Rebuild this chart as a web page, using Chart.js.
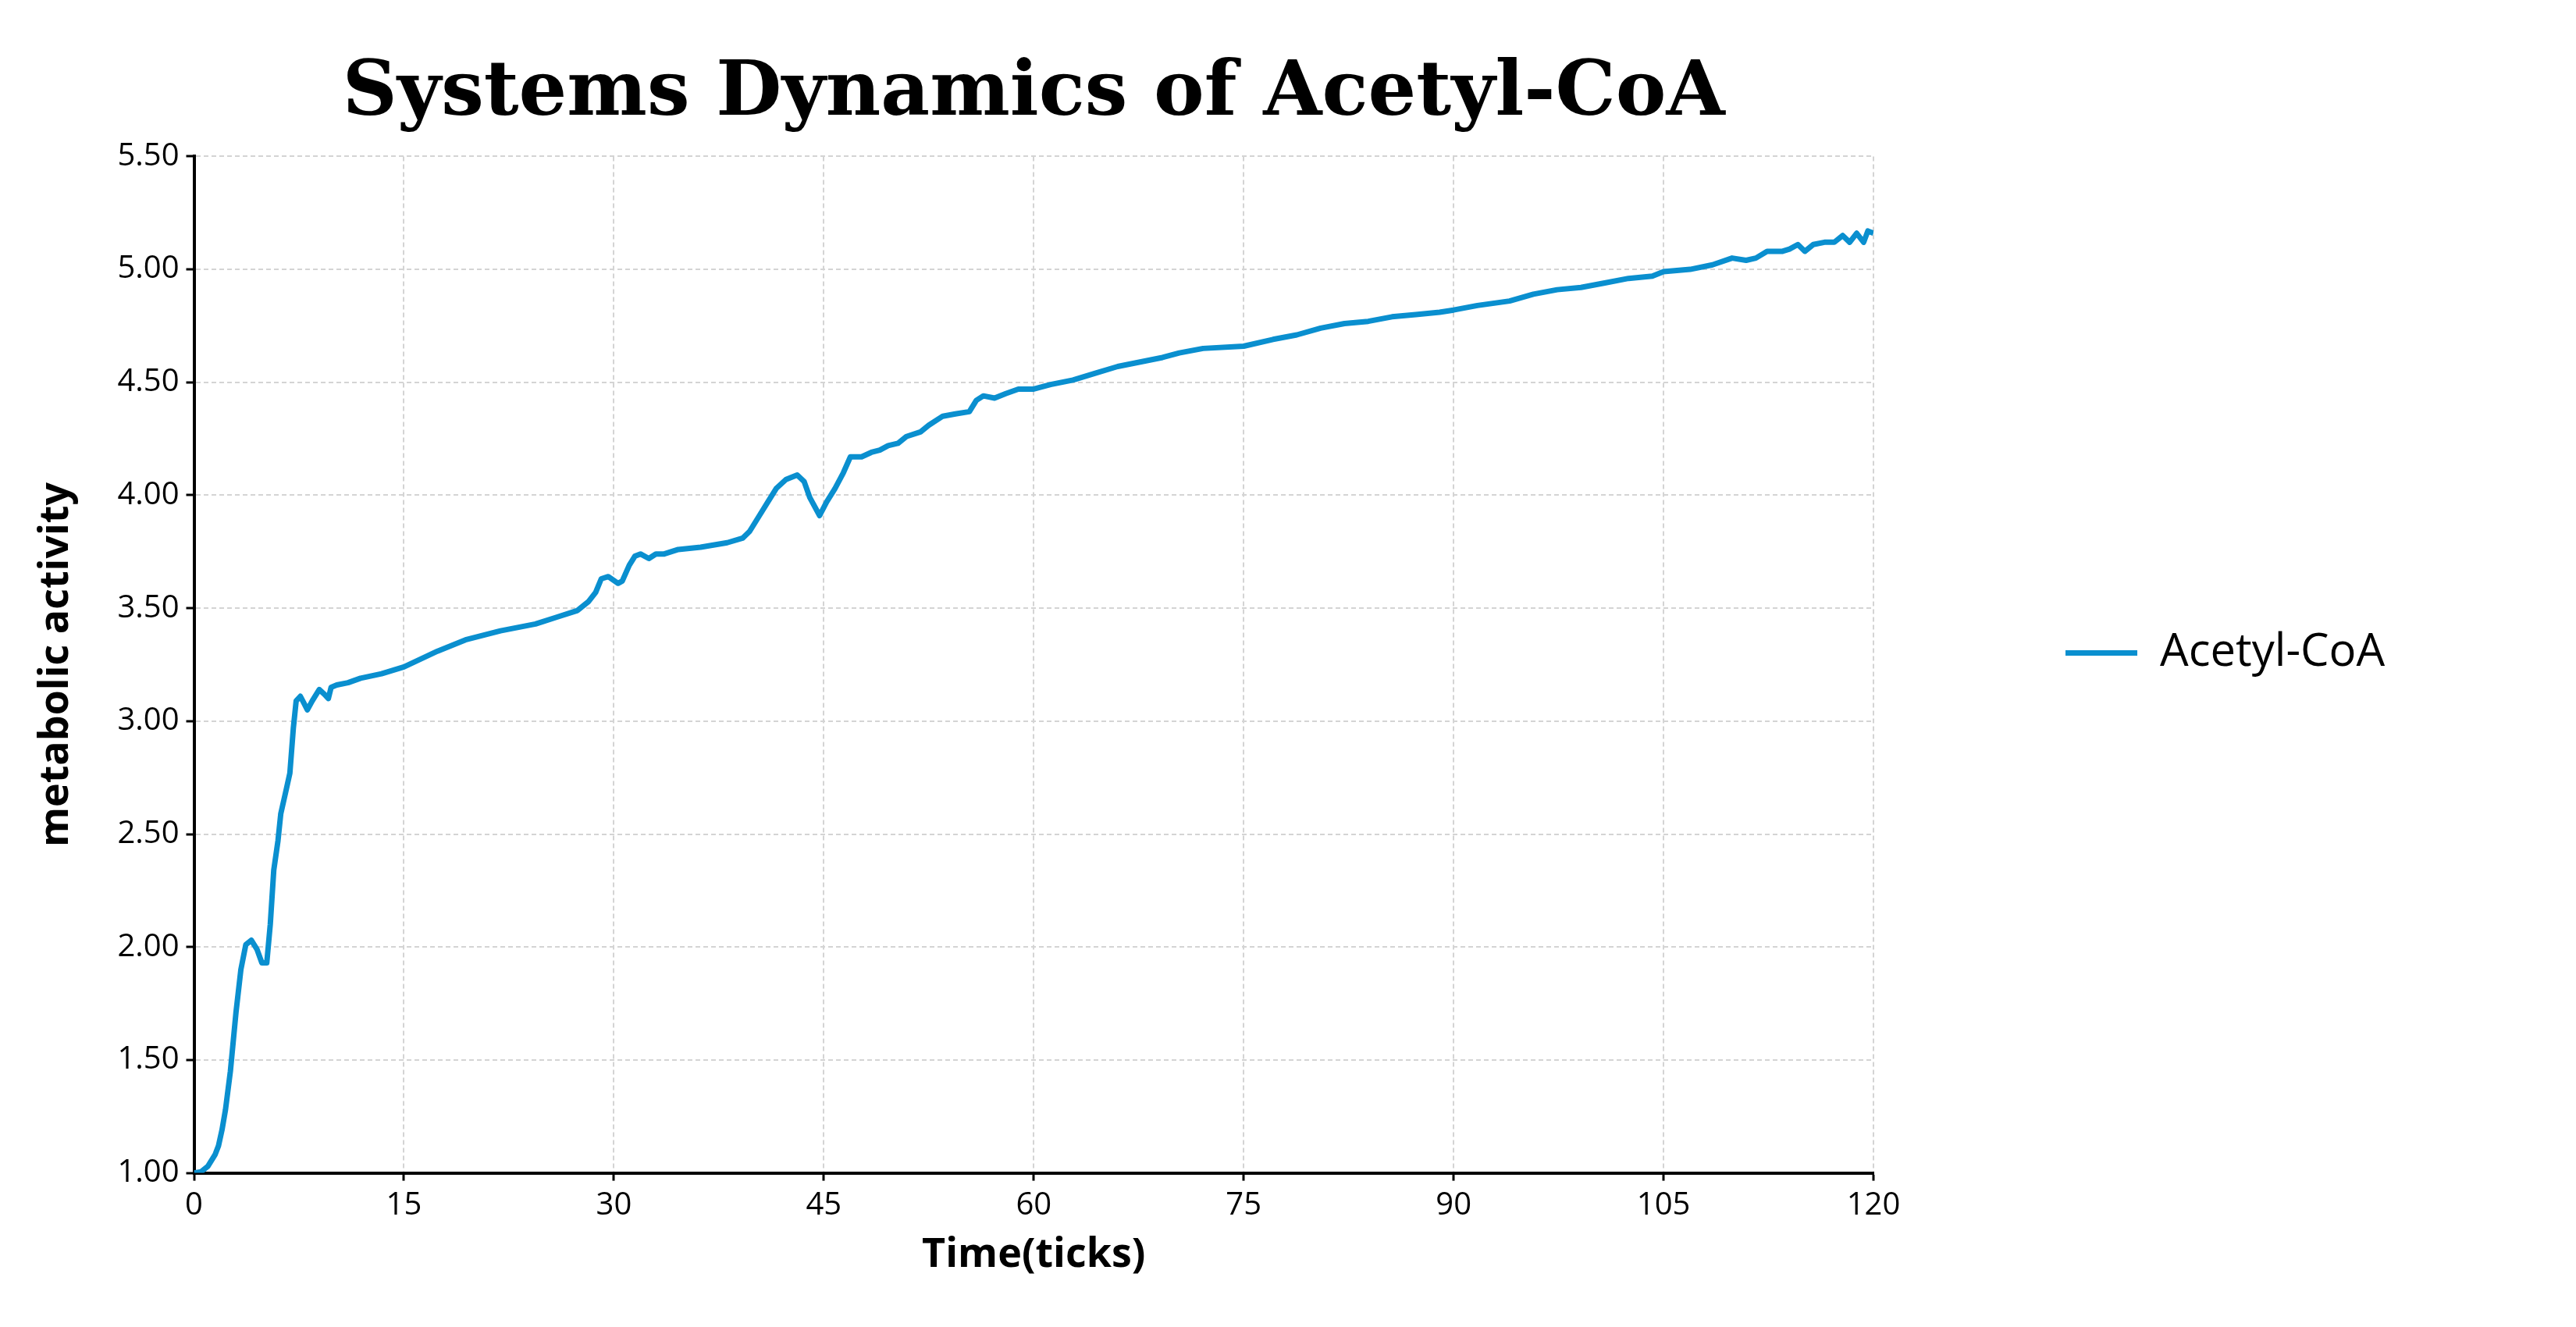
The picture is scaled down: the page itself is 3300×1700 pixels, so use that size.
<!DOCTYPE html>
<html>
<head>
<meta charset="utf-8">
<script src="https://cdn.jsdelivr.net/npm/chart.js@4.4.1/dist/chart.umd.min.js"></script>
<style>
  html, body { margin: 0; padding: 0; background: #ffffff; }
  #wrap { width: 3300px; height: 1700px; position: relative; }
</style>
</head>
<body>
<div id="wrap"><canvas id="c"></canvas></div>
<script>
const chartTitle = "Systems Dynamics of Acetyl-CoA";
const seriesName = "Acetyl-CoA";
const xTitle = "Time(ticks)";
const yTitle = "metabolic activity";

const xTicks = [0, 15, 30, 45, 60, 75, 90, 105, 120];
const yTicks = [1.00, 1.50, 2.00, 2.50, 3.00, 3.50, 4.00, 4.50, 5.00, 5.50];

const times = [
  0, 0.5, 1.0, 1.5, 1.75, 2.0, 2.25, 2.6, 3.0, 3.35, 3.7, 4.1, 4.5, 4.85, 5.2, 5.45, 5.7, 6.0, 6.2, 6.6,
  6.85, 7.1, 7.3, 7.6, 7.85, 8.1, 8.45, 8.95, 9.3, 9.6, 9.8, 10.2, 11.0, 11.9, 13.4, 15.0, 17.4, 19.4, 21.9, 24.4,
  25.9, 27.4, 28.2, 28.7, 29.1, 29.6, 30.3, 30.6, 31.1, 31.5, 31.9, 32.5, 33.0, 33.6, 34.6, 36.2, 38.1, 39.2, 39.7, 40.4,
  41.0, 41.6, 42.3, 43.1, 43.6, 44.0, 44.7, 45.2, 45.8, 46.4, 46.9, 47.7, 48.4, 49.0, 49.6, 50.3, 50.9, 51.9, 52.5, 53.5,
  54.4, 55.4, 55.9, 56.4, 57.2, 58.0, 58.9, 60.0, 61.2, 62.8, 64.4, 66.0, 67.6, 69.2, 70.4, 72.1, 75.0, 77.1, 78.8, 80.5,
  82.2, 83.9, 85.6, 87.3, 89.0, 90.0, 91.7, 94.0, 95.7, 97.4, 99.1, 100.8, 102.5, 104.2, 105.0, 106.9, 108.5, 109.9, 110.9, 111.6,
  112.4, 113.5, 114.0, 114.6, 115.1, 115.7, 116.5, 117.2, 117.8, 118.3, 118.8, 119.3, 119.6, 120
];

const acetylCoA = [
  1.00, 1.005, 1.03, 1.08, 1.12, 1.19, 1.28, 1.45, 1.71, 1.90, 2.01, 2.03, 1.99, 1.93, 1.93, 2.10, 2.34, 2.47, 2.59, 2.70,
  2.77, 2.97, 3.09, 3.11, 3.08, 3.05, 3.09, 3.14, 3.12, 3.10, 3.15, 3.16, 3.17, 3.19, 3.21, 3.24, 3.31, 3.36, 3.40, 3.43,
  3.46, 3.49, 3.53, 3.57, 3.63, 3.64, 3.61, 3.62, 3.69, 3.73, 3.74, 3.72, 3.74, 3.74, 3.76, 3.77, 3.79, 3.81, 3.84, 3.91,
  3.97, 4.03, 4.07, 4.09, 4.06, 3.99, 3.91, 3.97, 4.03, 4.10, 4.17, 4.17, 4.19, 4.20, 4.22, 4.23, 4.26, 4.28, 4.31, 4.35,
  4.36, 4.37, 4.42, 4.44, 4.43, 4.45, 4.47, 4.47, 4.49, 4.51, 4.54, 4.57, 4.59, 4.61, 4.63, 4.65, 4.66, 4.69, 4.71, 4.74,
  4.76, 4.77, 4.79, 4.80, 4.81, 4.82, 4.84, 4.86, 4.89, 4.91, 4.92, 4.94, 4.96, 4.97, 4.99, 5.00, 5.02, 5.05, 5.04, 5.05,
  5.08, 5.08, 5.09, 5.11, 5.08, 5.11, 5.12, 5.12, 5.15, 5.12, 5.16, 5.12, 5.17, 5.16
];

const LINE_COLOR = '#0a8fcf';
const SANS = "'Open Sans', 'Noto Sans', sans-serif";
const LEGEND_FONT_SIZE = 58;

// layout helper: measure legend text so the legend sits where the reference has it
const mctx = document.createElement('canvas').getContext('2d');
mctx.font = LEGEND_FONT_SIZE + "px " + SANS;
const legendTextW = mctx.measureText(seriesName).width;
const LEGEND_PAD = 246, LEGEND_BOX = 92;
const rightPad = Math.max(0, 900 - (LEGEND_PAD + LEGEND_BOX + LEGEND_FONT_SIZE / 2 + legendTextW + 10));
// vertical offset of the legend entry below the chart-area top
const LEGEND_TOP_SPACE = 361;

const points = times.map((t, i) => ({ x: t, y: acetylCoA[i] }));

Chart.defaults.font.family = SANS;
Chart.defaults.color = '#000';

new Chart(document.getElementById('c'), {
  type: 'line',
  data: {
    datasets: [{
      label: seriesName,
      data: points,
      borderColor: LINE_COLOR,
      backgroundColor: LINE_COLOR,
      borderWidth: 7,
      pointRadius: 0,
      pointHoverRadius: 0,
      tension: 0,
      fill: false,
      borderJoinStyle: 'round',
      pointStyle: 'line'
    }]
  },
  options: {
    responsive: true,
    maintainAspectRatio: false,
    devicePixelRatio: 1,
    animation: false,
    events: [],
    layout: { padding: { top: 64, left: 10, right: rightPad, bottom: 61 } },
    plugins: {
      title: {
        display: true,
        text: chartTitle,
        fullSize: false,
        color: '#000',
        font: { family: "'DejaVu Serif', serif", size: 97, weight: 'bold', lineHeight: 1.2 },
        padding: { top: 0, bottom: 20 }
      },
      legend: {
        display: true,
        position: 'right',
        fullSize: false,
        align: 'start',
        title: {
          display: true,
          text: ' ',
          font: { size: 10, lineHeight: 1 },
          padding: { top: 0, bottom: LEGEND_TOP_SPACE - 10 }
        },
        labels: {
          usePointStyle: true,
          pointStyleWidth: LEGEND_BOX,
          padding: LEGEND_PAD,
          color: '#000',
          font: { family: SANS, size: LEGEND_FONT_SIZE }
        }
      },
      tooltip: { enabled: false }
    },
    scales: {
      x: {
        type: 'linear',
        min: xTicks[0],
        max: xTicks[xTicks.length - 1],
        afterBuildTicks: (axis) => { axis.ticks = xTicks.map(v => ({ value: v })); },
        ticks: {
          color: '#000',
          font: { family: SANS, size: 40 },
          padding: 8,
          maxRotation: 0,
          autoSkip: false,
          callback: (v) => String(v)
        },
        grid: {
          color: '#d4d4d4',
          lineWidth: 2,
          drawTicks: true,
          tickLength: 10,
          tickColor: '#000',
          tickWidth: 3,
          tickBorderDash: []
        },
        border: { display: true, color: '#000', width: 4, dash: [6, 4] },
        title: {
          display: true,
          text: xTitle,
          color: '#000',
          font: { family: SANS, size: 52, weight: 'bold', lineHeight: 1.2 },
          padding: { top: 0, bottom: 0 }
        }
      },
      y: {
        type: 'linear',
        min: yTicks[0],
        max: yTicks[yTicks.length - 1],
        afterBuildTicks: (axis) => { axis.ticks = yTicks.map(v => ({ value: v })); },
        ticks: {
          color: '#000',
          font: { family: SANS, size: 40 },
          padding: 9,
          autoSkip: false,
          callback: (v) => Number(v).toFixed(2)
        },
        grid: {
          color: '#d4d4d4',
          lineWidth: 2,
          drawTicks: true,
          tickLength: 10,
          tickColor: '#000',
          tickWidth: 3,
          tickBorderDash: []
        },
        border: { display: true, color: '#000', width: 4, dash: [6, 4] },
        title: {
          display: true,
          text: yTitle,
          color: '#000',
          font: { family: SANS, size: 52, weight: 'bold', lineHeight: 1.2 },
          padding: { top: 31, bottom: 38 }
        }
      }
    }
  }
});
</script>
</body>
</html>
